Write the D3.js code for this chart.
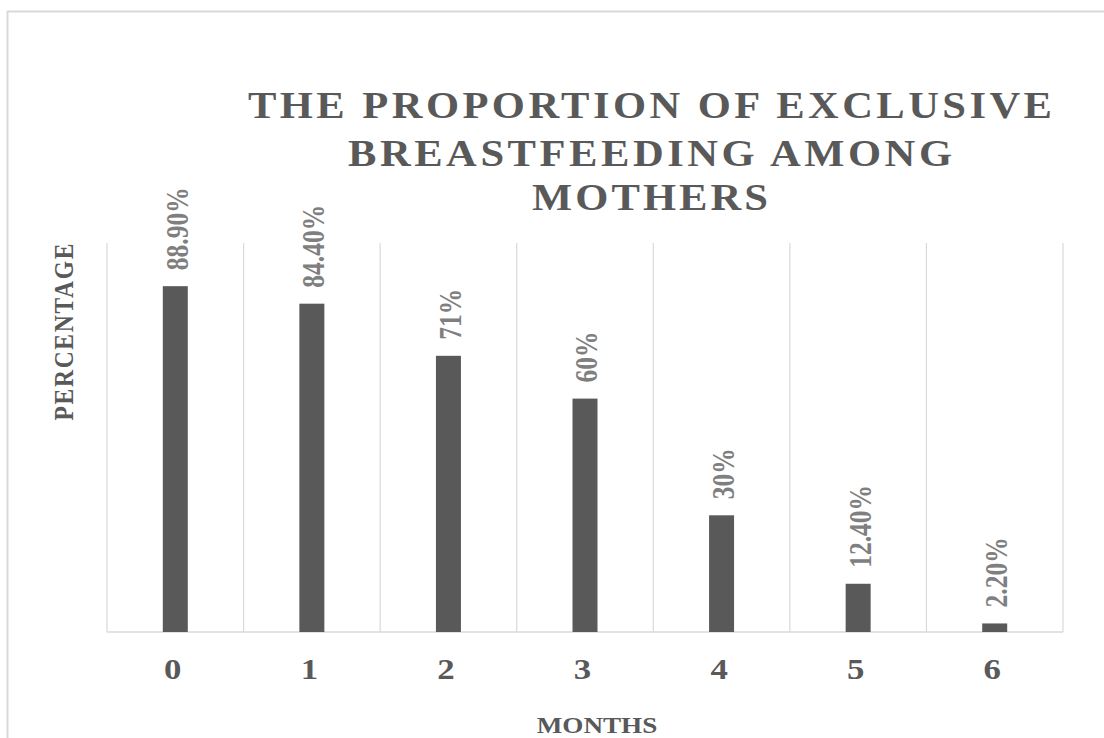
<!DOCTYPE html>
<html>
<head>
<meta charset="utf-8">
<script src="https://cdn.jsdelivr.net/npm/d3@7"></script>
<style>
body { margin: 0; background: white; }
text { font-family: "Liberation Serif", "Times New Roman", serif; font-weight: bold; }
</style>
</head>
<body>
<script>

var months = ["0", "1", "2", "3", "4", "5", "6"];
var proportions = [0.889, 0.844, 0.71, 0.60, 0.30, 0.124, 0.022];
var valueLabels = ["88.90%", "84.40%", "71%", "60%", "30%", "12.40%", "2.20%"];
var titleLines = ["THE PROPORTION OF EXCLUSIVE", "BREASTFEEDING AMONG", "MOTHERS"];

var w = 1104, h = 738;
// the reference looks stretched sideways, so text gets a horizontal scale
var sx = 1.2;
var titleSx = 1.12;

var plot = { left: 107, right: 1063, top: 243, bottom: 632 };

var svg = d3.select("body").append("svg")
	.attr("width", w)
	.attr("height", h);

// chart border (runs off the right and bottom edge)
svg.append("rect")
	.attr("x", 7.5).attr("y", 11.5)
	.attr("width", w + 20).attr("height", h + 20)
	.style("fill", "white")
	.style("stroke", "#d9d9d9")
	.style("stroke-width", 2);

var x = d3.scaleBand()
	.domain(months)
	.range([plot.left, plot.right]);

var y = d3.scaleLinear()
	.domain([0, 1])
	.range([plot.bottom, plot.top]);

// vertical gridlines on the band edges
var edges = months.map(function(d) { return x(d); }).concat([plot.right]);
svg.selectAll("line.grid").data(edges).enter().append("line")
	.attr("class", "grid")
	.attr("x1", function(d) { return d; })
	.attr("x2", function(d) { return d; })
	.attr("y1", plot.top)
	.attr("y2", plot.bottom)
	.style("stroke", "#d9d9d9")
	.style("stroke-width", 1.2);

svg.append("line")
	.attr("x1", plot.left).attr("x2", plot.right)
	.attr("y1", plot.bottom).attr("y2", plot.bottom)
	.style("stroke", "#d9d9d9")
	.style("stroke-width", 1.5);

var barW = x.bandwidth() * 0.183;

function center(d, i) {
	return x(months[i]) + x.bandwidth() / 2;
}

svg.selectAll("rect.bar").data(proportions).enter().append("rect")
	.attr("class", "bar")
	.attr("x", function(d, i) { return center(d, i) - barW / 2; })
	.attr("y", function(d) { return y(d); })
	.attr("width", barW)
	.attr("height", function(d) { return y(0) - y(d); })
	.style("fill", "#595959");

// value labels, rotated
svg.selectAll("text.value").data(proportions).enter().append("text")
	.attr("class", "value")
	.attr("transform", function(d, i) {
		return "translate(" + (center(d, i) + 2) + "," + (y(d) - 16) + ") scale(" + sx + ",1) rotate(-90)";
	})
	.attr("dy", "0.34em")
	.style("font-size", "25.5px")
	.style("fill", "#7f7f7f")
	.text(function(d, i) { return valueLabels[i]; });

// category labels
svg.selectAll("text.tick").data(months).enter().append("text")
	.attr("class", "tick")
	.attr("transform", function(d) {
		return "translate(" + (x(d) + x.bandwidth() / 2 - 2.5) + ",679) scale(" + sx + ",1)";
	})
	.style("text-anchor", "middle")
	.style("font-size", "29px")
	.style("fill", "#595959")
	.text(function(d) { return d; });

// title
var titleBase = [118, 166, 210];
var titleLen = [804, 604, 236];
svg.selectAll("text.title").data(titleLines).enter().append("text")
	.attr("class", "title")
	.attr("transform", function(d, i) { return "translate(650," + titleBase[i] + ") scale(" + titleSx + ",1)"; })
	.attr("x", function(d, i) { return -titleLen[i] / titleSx / 2; })
	.attr("textLength", function(d, i) { return titleLen[i] / titleSx; })
	.attr("lengthAdjust", "spacing")
	.style("font-size", "38px")
	.style("fill", "#595959")
	.text(function(d) { return d; });

// axis titles
svg.append("text")
	.attr("transform", "translate(73,332) scale(" + sx + ",1) rotate(-90)")
	.attr("x", -88.5)
	.attr("textLength", 177)
	.attr("lengthAdjust", "spacing")
	.style("font-size", "23.5px")
	.style("fill", "#595959")
	.text("PERCENTAGE");

svg.append("text")
	.attr("transform", "translate(597,733) scale(" + sx + ",1)")
	.style("text-anchor", "middle")
	.style("font-size", "22.6px")
	.style("fill", "#595959")
	.text("MONTHS");

</script>
</body>
</html>
